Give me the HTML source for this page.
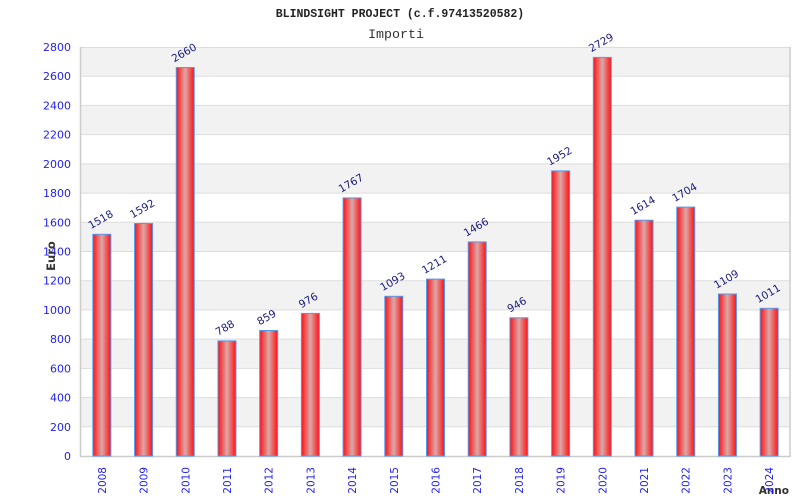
<!DOCTYPE html>
<html><head><meta charset="utf-8"><style>
html,body{margin:0;padding:0;background:#fff;}
svg{display:block;}
</style></head><body>
<svg width="800" height="500" viewBox="0 0 800 500" xmlns="http://www.w3.org/2000/svg">
<defs>
<linearGradient id="g" x1="0" y1="0" x2="1" y2="0">
<stop offset="0" stop-color="#ff1010"/>
<stop offset="0.5" stop-color="#dca8a8"/>
<stop offset="1" stop-color="#ff1010"/>
</linearGradient>
</defs>
<rect width="800" height="500" fill="#fff"/>
<text x="400" y="17" text-anchor="middle" font-family="Liberation Mono, monospace" font-weight="bold" font-size="11.5" fill="#222">BLINDSIGHT PROJECT (c.f.97413520582)</text>
<text x="396" y="38" text-anchor="middle" font-family="Liberation Mono, monospace" font-size="13.3" fill="#333">Importi</text>
<g fill="#f2f2f2">
<rect x="81" y="397.57" width="709" height="29.22"/>
<rect x="81" y="339.14" width="709" height="29.22"/>
<rect x="81" y="280.71" width="709" height="29.22"/>
<rect x="81" y="222.29" width="709" height="29.21"/>
<rect x="81" y="163.86" width="709" height="29.21"/>
<rect x="81" y="105.43" width="709" height="29.21"/>
<rect x="81" y="47" width="709" height="29.21"/>
</g>
<g stroke="#dddddd" stroke-width="1">
<line x1="81" x2="790" y1="426.79" y2="426.79"/>
<line x1="81" x2="790" y1="397.57" y2="397.57"/>
<line x1="81" x2="790" y1="368.36" y2="368.36"/>
<line x1="81" x2="790" y1="339.14" y2="339.14"/>
<line x1="81" x2="790" y1="309.93" y2="309.93"/>
<line x1="81" x2="790" y1="280.71" y2="280.71"/>
<line x1="81" x2="790" y1="251.5" y2="251.5"/>
<line x1="81" x2="790" y1="222.29" y2="222.29"/>
<line x1="81" x2="790" y1="193.07" y2="193.07"/>
<line x1="81" x2="790" y1="163.86" y2="163.86"/>
<line x1="81" x2="790" y1="134.64" y2="134.64"/>
<line x1="81" x2="790" y1="105.43" y2="105.43"/>
<line x1="81" x2="790" y1="76.21" y2="76.21"/>
<line x1="81" x2="790" y1="47.5" y2="47.5"/>
</g>
<g stroke="#cccccc" stroke-width="1.5" fill="none">
<line x1="80.5" y1="47" x2="80.5" y2="457"/>
<line x1="790" y1="47" x2="790" y2="457"/>
<line x1="80" y1="456.5" x2="790" y2="456.5"/>
</g>
<g font-family="DejaVu Sans, sans-serif" font-size="11" fill="#2222ee" text-anchor="end">
<text x="71" y="460">0</text>
<text x="71" y="430.8">200</text>
<text x="71" y="401.6">400</text>
<text x="71" y="372.4">600</text>
<text x="71" y="343.1">800</text>
<text x="71" y="313.9">1000</text>
<text x="71" y="284.7">1200</text>
<text x="71" y="255.5">1400</text>
<text x="71" y="226.3">1600</text>
<text x="71" y="197.1">1800</text>
<text x="71" y="167.9">2000</text>
<text x="71" y="138.6">2200</text>
<text x="71" y="109.4">2400</text>
<text x="71" y="80.2">2600</text>
<text x="71" y="51">2800</text>
</g>
<text transform="translate(55,256) rotate(-90)" text-anchor="middle" font-family="DejaVu Sans, sans-serif" font-weight="bold" font-size="11.5" fill="#333">Euro</text>
<text x="789" y="494" text-anchor="end" font-family="DejaVu Sans, sans-serif" font-weight="bold" font-size="10.5" fill="#333">Anno</text>
<g fill="url(#g)" stroke="#5599ee" stroke-width="1">
<rect x="92.85" y="234.3" width="18" height="221.7"/>
<rect x="134.56" y="223.5" width="18" height="232.5"/>
<rect x="176.26" y="67.5" width="18" height="388.5"/>
<rect x="217.97" y="340.9" width="18" height="115.1"/>
<rect x="259.68" y="330.5" width="18" height="125.5"/>
<rect x="301.38" y="313.4" width="18" height="142.6"/>
<rect x="343.09" y="197.9" width="18" height="258.1"/>
<rect x="384.79" y="296.3" width="18" height="159.7"/>
<rect x="426.5" y="279.1" width="18" height="176.9"/>
<rect x="468.21" y="241.9" width="18" height="214.1"/>
<rect x="509.91" y="317.8" width="18" height="138.2"/>
<rect x="551.62" y="170.9" width="18" height="285.1"/>
<rect x="593.32" y="57.4" width="18" height="398.6"/>
<rect x="635.03" y="220.2" width="18" height="235.8"/>
<rect x="676.74" y="207.1" width="18" height="248.9"/>
<rect x="718.44" y="294" width="18" height="162"/>
<rect x="760.15" y="308.3" width="18" height="147.7"/>
</g>
<g font-family="DejaVu Sans, sans-serif" font-size="10.5" fill="#1a1a80">
<text transform="translate(90.85,229.3) rotate(-30)">1518</text>
<text transform="translate(132.56,218.5) rotate(-30)">1592</text>
<text transform="translate(174.26,62.5) rotate(-30)">2660</text>
<text transform="translate(217.97,335.9) rotate(-30)">788</text>
<text transform="translate(259.68,325.5) rotate(-30)">859</text>
<text transform="translate(301.38,308.4) rotate(-30)">976</text>
<text transform="translate(341.09,192.9) rotate(-30)">1767</text>
<text transform="translate(382.79,291.3) rotate(-30)">1093</text>
<text transform="translate(424.5,274.1) rotate(-30)">1211</text>
<text transform="translate(466.21,236.9) rotate(-30)">1466</text>
<text transform="translate(509.91,312.8) rotate(-30)">946</text>
<text transform="translate(549.62,165.9) rotate(-30)">1952</text>
<text transform="translate(591.32,52.4) rotate(-30)">2729</text>
<text transform="translate(633.03,215.2) rotate(-30)">1614</text>
<text transform="translate(674.74,202.1) rotate(-30)">1704</text>
<text transform="translate(716.44,289) rotate(-30)">1109</text>
<text transform="translate(758.15,303.3) rotate(-30)">1011</text>
</g>
<g font-family="DejaVu Sans, sans-serif" font-size="10.5" fill="#2222ee" text-anchor="end">
<text transform="translate(105.85,467) rotate(-90)">2008</text>
<text transform="translate(147.56,467) rotate(-90)">2009</text>
<text transform="translate(189.26,467) rotate(-90)">2010</text>
<text transform="translate(230.97,467) rotate(-90)">2011</text>
<text transform="translate(272.68,467) rotate(-90)">2012</text>
<text transform="translate(314.38,467) rotate(-90)">2013</text>
<text transform="translate(356.09,467) rotate(-90)">2014</text>
<text transform="translate(397.79,467) rotate(-90)">2015</text>
<text transform="translate(439.5,467) rotate(-90)">2016</text>
<text transform="translate(481.21,467) rotate(-90)">2017</text>
<text transform="translate(522.91,467) rotate(-90)">2018</text>
<text transform="translate(564.62,467) rotate(-90)">2019</text>
<text transform="translate(606.32,467) rotate(-90)">2020</text>
<text transform="translate(648.03,467) rotate(-90)">2021</text>
<text transform="translate(689.74,467) rotate(-90)">2022</text>
<text transform="translate(731.44,467) rotate(-90)">2023</text>
<text transform="translate(773.15,467) rotate(-90)">2024</text>
</g>
</svg>
</body></html>
